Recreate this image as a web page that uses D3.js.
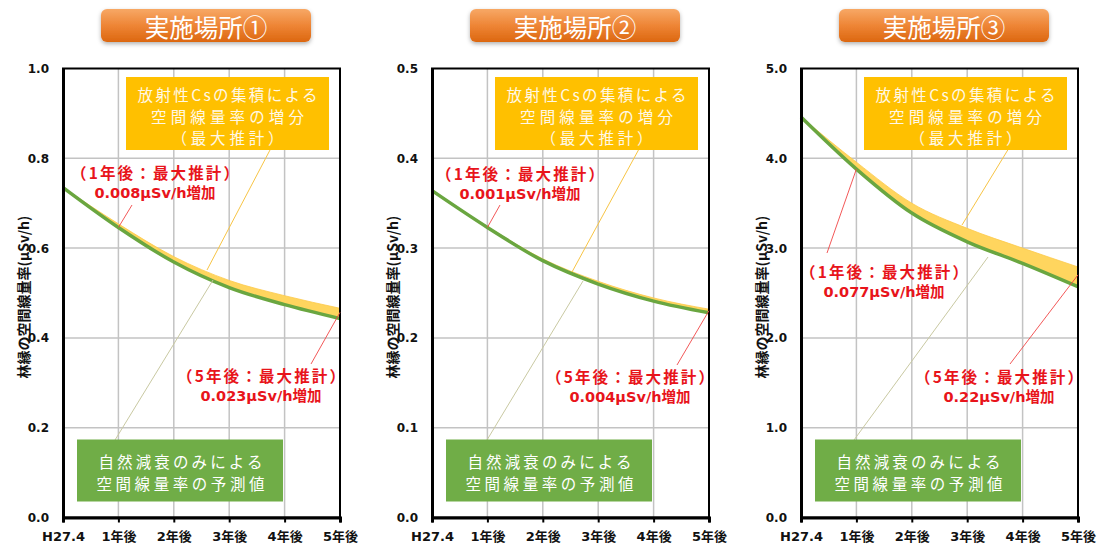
<!DOCTYPE html>
<html><head><meta charset="utf-8">
<script src="https://cdn.jsdelivr.net/npm/d3@7"></script>
<style>
html,body{margin:0;padding:0;background:#fff;}
svg{display:block;}
text{font-family:"DejaVu Sans","Noto Sans CJK JP",sans-serif;}
</style></head><body>
<svg id="c" width="1101" height="545"></svg>
<script>
// ---------- data ----------
const categories = ["H27.4","1年後","2年後","3年後","4年後","5年後"];
const panelTitles = ["実施場所①","実施場所②","実施場所③"];
const decay1 = [0.735,0.646,0.569,0.512,0.474,0.443];
const decay2 = [0.364,0.323,0.286,0.260,0.241,0.228];
const decay3 = [4.46,3.88,3.39,3.07,2.83,2.57];
const increase1 = [0,0.008,0.012,0.016,0.020,0.023];
const increase2 = [0,0.001,0.002,0.003,0.0035,0.004];
const increase3 = [0,0.077,0.11,0.15,0.17,0.22];
const yTicks1 = [0,0.2,0.4,0.6,0.8,1.0];
const yTicks2 = [0,0.1,0.2,0.3,0.4,0.5];
const yTicks3 = [0,1.0,2.0,3.0,4.0,5.0];
const oneYearValues = ["0.008μSv/h増加","0.001μSv/h増加","0.077μSv/h増加"];
const fiveYearValues = ["0.023μSv/h増加","0.004μSv/h増加","0.22μSv/h増加"];
const oneYearHead = "（1年後：最大推計）";
const fiveYearHead = "（5年後：最大推計）";
const yellowBoxLines = ["放射性Csの集積による","空間線量率の増分","（最大推計）"];
const greenBoxLines = ["自然減衰のみによる","空間線量率の予測値"];
const yAxisTitle = "林縁の空間線量率(μSv/h)";

const panels = [
  {title:panelTitles[0], decay:decay1, inc:increase1, ticks:yTicks1},
  {title:panelTitles[1], decay:decay2, inc:increase2, ticks:yTicks2},
  {title:panelTitles[2], decay:decay3, inc:increase3, ticks:yTicks3}
];

// ---------- layout ----------
const lefts = [63, 432, 801];
const plotW = 277, plotTop = 68.5, plotBottom = 517.5;
// annotation layout (pixel offsets relative to plot origin)
const ann = [
  {one:[92,103], oneLeader:[69,136.5], five:[198,306], fiveLeader:[248,295.5], yl:[207,150-68.5,144,201.5], gl:[52,371.5,150,211.5]},
  {one:[88,104], oneLeader:[68,136.5], five:[198,307], fiveLeader:[245,296.5], yl:[207,149-68.5,140,203.5], gl:[55,371.5,151,212.5]},
  {one:[83,202], oneLeader:[26,184.5], five:[198,307], fiveLeader:[209,295.5], yl:[208,148-68.5,161,156.5], gl:[53,371.5,187,188.5]}
];

const svg = d3.select("#c");
const defs = svg.append("defs");
const grad = defs.append("linearGradient").attr("id","og").attr("x1",0).attr("y1",0).attr("x2",0).attr("y2",1);
grad.append("stop").attr("offset","0%").attr("stop-color","#f7a865");
grad.append("stop").attr("offset","50%").attr("stop-color","#ee8536");
grad.append("stop").attr("offset","100%").attr("stop-color","#dc6710");
const f = defs.append("filter").attr("id","sh").attr("x","-10%").attr("y","-20%").attr("width","120%").attr("height","160%");
f.append("feDropShadow").attr("dx",0).attr("dy",2).attr("stdDeviation",2).attr("flood-color","#000").attr("flood-opacity",0.3);

panels.forEach((p,i)=>{
  const L = lefts[i];
  const T = plotTop, B = plotBottom;
  const g = svg.append("g");
  const x = d3.scalePoint().domain(d3.range(categories.length)).range([L, L+plotW]);
  const y = d3.scaleLinear().domain([0, d3.max(p.ticks)]).range([B, T]);
  const a = ann[i];

  // title box
  const tcx = L + 143;
  g.append("rect").attr("x",tcx-105).attr("y",9).attr("width",210).attr("height",33).attr("rx",6)
    .attr("fill","url(#og)").attr("filter","url(#sh)");
  g.append("text").attr("x",tcx).attr("y",26.5).attr("text-anchor","middle")
    .attr("dominant-baseline","central").attr("fill","#fff").attr("font-size",24.5)
    .style("font-family","'Noto Sans CJK JP'").text(p.title);

  // grid
  g.append("g").selectAll("line").data(p.ticks.slice(1,-1)).join("line")
    .attr("x1",L).attr("x2",L+plotW).attr("y1",d=>y(d)).attr("y2",d=>y(d))
    .attr("stroke","#c3c3c3").attr("stroke-width",1.5);
  g.append("g").selectAll("line").data(d3.range(1,categories.length-1)).join("line")
    .attr("x1",d=>x(d)).attr("x2",d=>x(d)).attr("y1",T).attr("y2",B)
    .attr("stroke","#c3c3c3").attr("stroke-width",1.5);

  // band
  const pts = p.decay.map((v,k)=>({k, lo:v, hi:v+p.inc[k]}));
  g.append("path").datum(pts).attr("d", d3.area().x(d=>x(d.k)).y0(d=>y(d.lo)).y1(d=>y(d.hi)).curve(d3.curveMonotoneX))
    .attr("fill","#ffd55e").attr("stroke","#fcc94a").attr("stroke-width",0.8);
  g.append("path").datum(pts).attr("d", d3.line().x(d=>x(d.k)).y(d=>y(d.lo)).curve(d3.curveMonotoneX))
    .attr("fill","none").attr("stroke","#6aa640").attr("stroke-width",3.5);

  // border
  g.append("rect").attr("x",L).attr("y",T).attr("width",plotW).attr("height",B-T)
    .attr("fill","none").attr("stroke","#000").attr("stroke-width",2);
  // axes
  const xa = g.append("g").attr("transform",`translate(0,${B})`)
    .call(d3.axisBottom(x).tickSize(5).tickFormat(k=>categories[k]));
  xa.select(".domain").attr("stroke-width",3);
  xa.selectAll(".tick line").attr("stroke-width",2);
  xa.selectAll("text").attr("font-size",13).attr("font-weight","bold").attr("fill","#111")
    .attr("dy",null).attr("y",19).attr("dominant-baseline","central");
  const ya = g.append("g").attr("transform",`translate(${L},0)`)
    .call(d3.axisLeft(y).tickValues(p.ticks).tickSize(0).tickPadding(14).tickFormat(d3.format(".1f")));
  ya.select(".domain").attr("stroke-width",3);
  ya.selectAll("text").attr("font-size",12).attr("font-weight","bold").attr("fill","#111")
    .attr("dy",null).attr("dominant-baseline","central");

  // y title
  g.append("text").attr("transform",`translate(${L-40},${(T+B)/2 + 4}) rotate(-90)`)
    .attr("text-anchor","middle").attr("dominant-baseline","central")
    .attr("font-size",14).attr("font-weight","bold").attr("fill","#111")
    .style("font-family","'Noto Sans CJK JP'").text(yAxisTitle);

  // leaders
  g.append("line").attr("x1",L+a.yl[0]).attr("y1",T+a.yl[1]).attr("x2",L+a.yl[2]).attr("y2",T+a.yl[3])
    .attr("stroke","#f7c445").attr("stroke-width",1);
  g.append("line").attr("x1",L+a.gl[0]).attr("y1",T+a.gl[1]).attr("x2",L+a.gl[2]).attr("y2",T+a.gl[3])
    .attr("stroke","#c9c9a2").attr("stroke-width",1);
  g.append("line").attr("x1",L+a.oneLeader[0]).attr("y1",T+a.oneLeader[1]).attr("x2",x(1)).attr("y2",y(p.decay[1]))
    .attr("stroke","#f04545").attr("stroke-width",0.9);
  g.append("line").attr("x1",L+a.fiveLeader[0]).attr("y1",T+a.fiveLeader[1]).attr("x2",x(5)).attr("y2",y(p.decay[5]+p.inc[5]*0.6))
    .attr("stroke","#f04545").attr("stroke-width",0.9);

  // yellow box
  const yb = {x:L+63, y:77, w:203, h:73};
  g.append("rect").attr("x",yb.x).attr("y",yb.y).attr("width",yb.w).attr("height",yb.h).attr("fill","#ffc000");
  const ybLens = [180,153,112];
  yellowBoxLines.forEach((t,k)=>{
    g.append("text").attr("x",yb.x+yb.w/2).attr("y",yb.y+17+k*21.5).attr("text-anchor","middle")
      .attr("dominant-baseline","central").attr("font-size",15.5).attr("fill","#fff8e6")
      .attr("textLength",ybLens[k]).attr("lengthAdjust","spacing")
      .style("font-family","'Noto Sans CJK JP'").text(t);
  });
  // green box
  const gb = {x:L+14, y:439.5, w:206, h:62};
  g.append("rect").attr("x",gb.x).attr("y",gb.y).attr("width",gb.w).attr("height",gb.h).attr("fill","#70ad47");
  const gbLens = [164,168];
  greenBoxLines.forEach((t,k)=>{
    g.append("text").attr("x",gb.x+gb.w/2+0.5).attr("y",gb.y+21+k*22).attr("text-anchor","middle")
      .attr("dominant-baseline","central").attr("font-size",15.5).attr("fill","#fff")
      .attr("textLength",gbLens[k]).attr("lengthAdjust","spacing")
      .style("font-family","'Noto Sans CJK JP'").text(t);
  });

  // red labels
  const red = "#e8141b";
  const lab = (cx,cy,head,val)=>{
    g.append("text").attr("x",cx).attr("y",cy).attr("text-anchor","middle").attr("dominant-baseline","central")
      .attr("font-size",15.5).attr("font-weight","bold").attr("fill",red)
      .attr("textLength",168).attr("lengthAdjust","spacing")
      .style("font-family","'Noto Sans CJK JP'").text(head);
    g.append("text").attr("x",cx).attr("y",cy+21.5).attr("text-anchor","middle").attr("dominant-baseline","central")
      .attr("font-size",14.5).attr("font-weight","bold").attr("fill",red).text(val);
  };
  lab(L+a.one[0], T+a.one[1], oneYearHead, oneYearValues[i]);
  lab(L+a.five[0], T+a.five[1], fiveYearHead, fiveYearValues[i]);
});
</script>
</body></html>
